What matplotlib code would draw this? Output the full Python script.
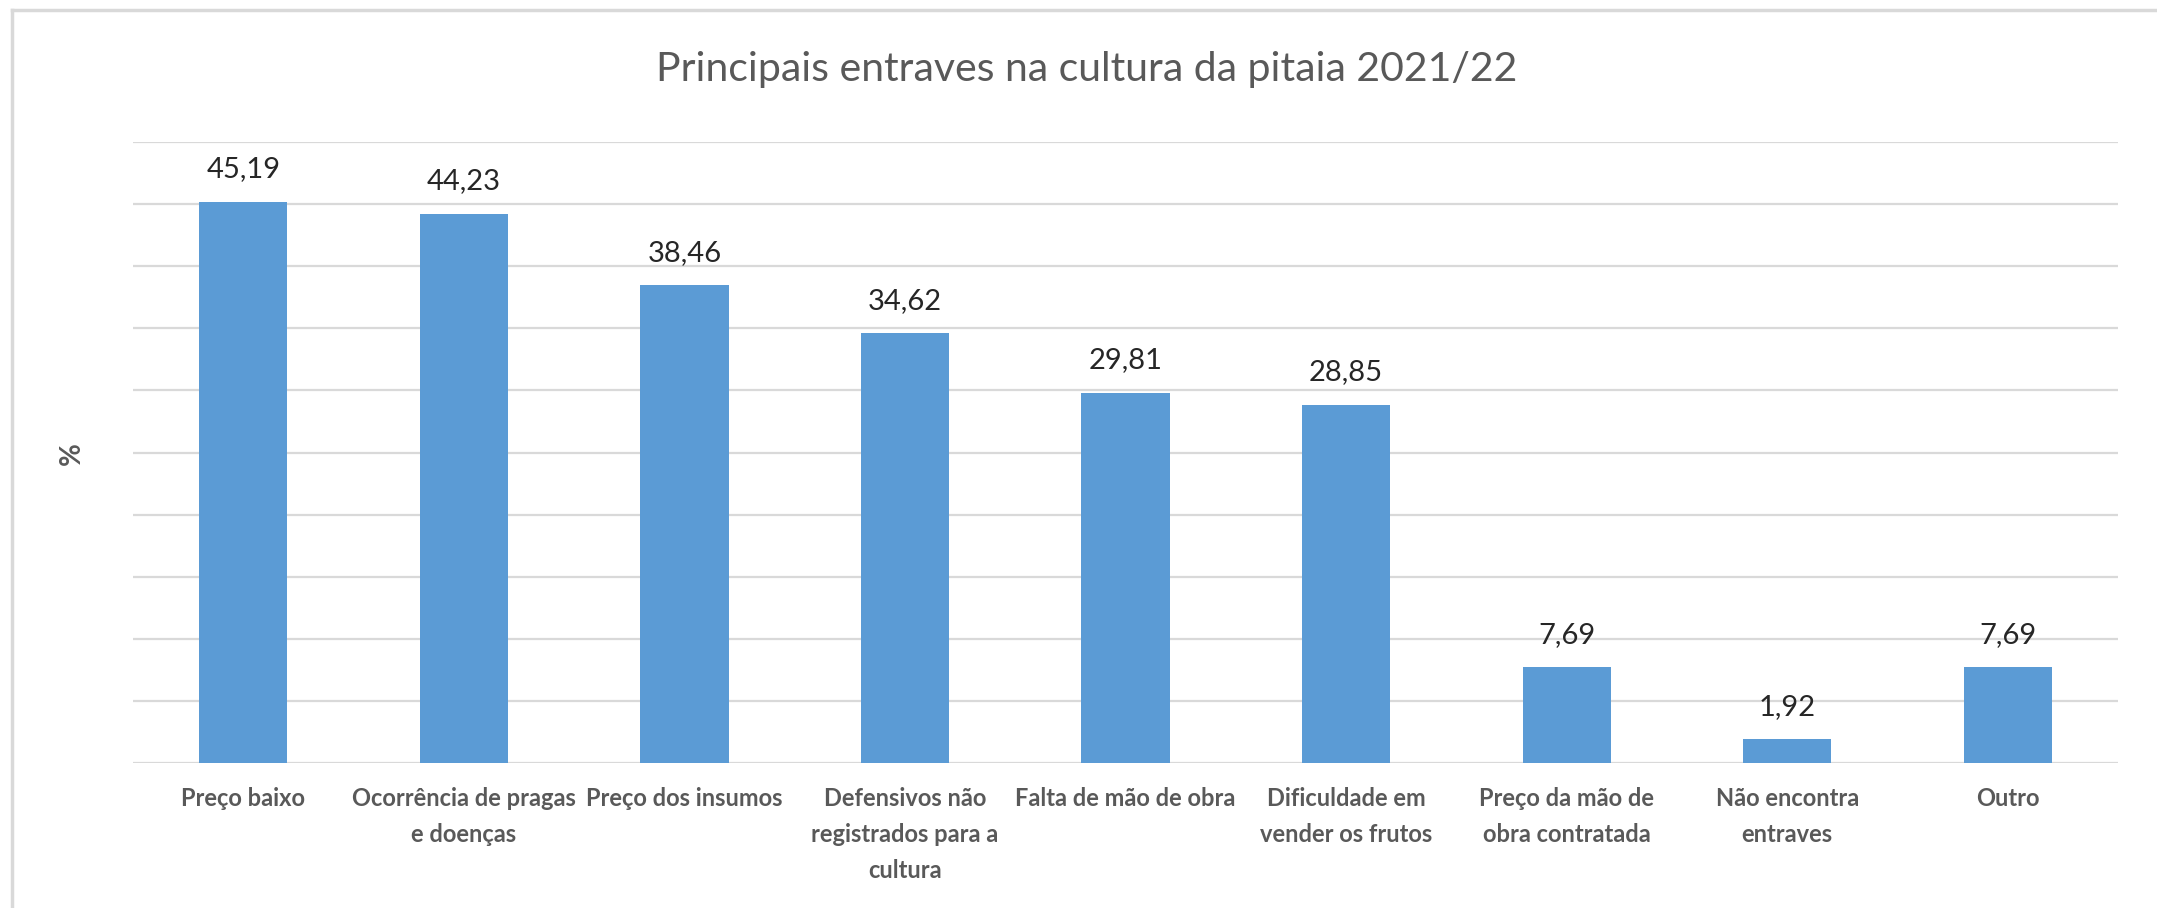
import matplotlib
matplotlib.use("Agg")
import matplotlib.pyplot as plt
from matplotlib.lines import Line2D

categories = [
    "Preço baixo",
    "Ocorrência de pragas\ne doenças",
    "Preço dos insumos",
    "Defensivos não\nregistrados para a\ncultura",
    "Falta de mão de obra",
    "Dificuldade em\nvender os frutos",
    "Preço da mão de\nobra contratada",
    "Não encontra\nentraves",
    "Outro",
]
values = [45.19, 44.23, 38.46, 34.62, 29.81, 28.85, 7.69, 1.92, 7.69]
title = "Principais entraves na cultura da pitaia 2021/22"
y_label = "%"

BAR = "#5B9BD5"
GRID = "#D9D9D9"
GREY_TXT = "#595959"
FONT = ["Lato", "DejaVu Sans"]

plt.rcParams["font.family"] = FONT

W, H = 2157, 908
fig = plt.figure(figsize=(W / 100, H / 100), dpi=100)
fig.patch.set_facecolor("white")

# outer chart frame (top and left edges visible)
fig.add_artist(Line2D([12 / W, 12 / W], [0, 1 - 10 / H], transform=fig.transFigure,
                      color=GRID, lw=2.5))
fig.add_artist(Line2D([12 / W, 1], [1 - 10 / H, 1 - 10 / H], transform=fig.transFigure,
                      color=GRID, lw=2.5))

left, right, top, bottom = 133, 2118, 142, 763
ax = fig.add_axes([left / W, 1 - bottom / H, (right - left) / W, (bottom - top) / H])

x = range(len(categories))
bars = ax.bar(x, values, width=0.4, color=BAR, zorder=3)

ax.set_xlim(-0.5, len(categories) - 0.5)
ax.set_ylim(0, 50)
ax.set_yticks(range(0, 51, 5))
ax.set_yticklabels([])
ax.grid(axis="y", color=GRID, lw=1.6, zorder=0)
ax.tick_params(axis="both", length=0)
for s in ax.spines.values():
    s.set_visible(False)

ax.set_xticks(list(x))
ax.set_xticklabels(categories, fontsize=17, fontweight="bold", color=GREY_TXT,
                   linespacing=1.7)
ax.tick_params(axis="x", pad=17)

ax.bar_label(bars, labels=[f"{v:.2f}".replace(".", ",") for v in values],
             padding=14, fontsize=21, color="#262626")

fig.text(72 / W, 1 - 454 / H, y_label, rotation=90, ha="center", va="center",
         fontsize=20, fontweight="bold", color=GREY_TXT)
fig.text(1087 / W, 1 - 69 / H, title, ha="center", va="center",
         fontsize=29.5, color=GREY_TXT)

fig.savefig("out.png", dpi=100, facecolor="white")
